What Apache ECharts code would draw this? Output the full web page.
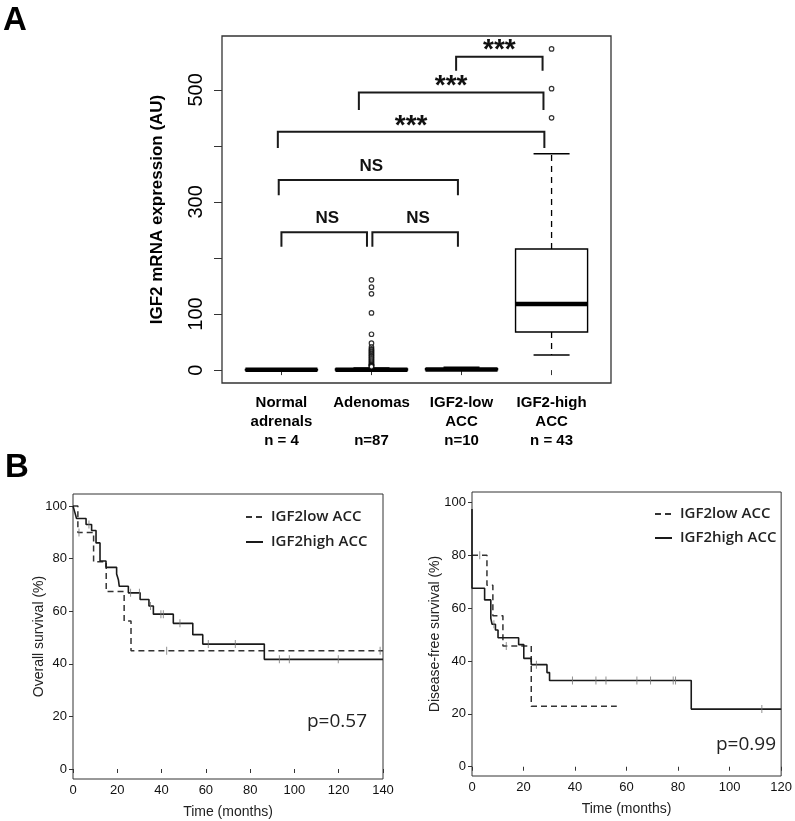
<!DOCTYPE html>
<html><head><meta charset="utf-8">
<script src="https://cdn.jsdelivr.net/npm/echarts@6/dist/echarts.min.js"></script>
<style>html,body{margin:0;padding:0;background:#fff}#c{width:795px;height:821px}</style>
</head><body><div id="c"></div>
<script>
// ---------- Panel A data ----------
const categories = ['Normal\nadrenals\nn = 4', 'Adenomas\n\nn=87', 'IGF2-low\nACC\nn=10', 'IGF2-high\nACC\nn = 43'];
const boxMin = [0, 0, 0, 27];
const boxQ1 = [0.2, 0.3, 0.5, 68];
const boxMedian = [0.5, 0.8, 1, 118];
const boxQ3 = [1, 2, 2.5, 216];
const boxMax = [2, 4, 5, 386];
const adenomaOutliers = [161, 148, 136, 102, 64, 48, 41, 38, 36, 34, 32, 30, 28, 26, 24, 22, 20, 18, 16, 14, 12, 10, 9, 8, 7, 6];
const igf2HighOutliers = [450, 502, 573];
const exprTicks = [0, 100, 200, 300, 400, 500];
const exprTickLabels = [0, 100, 300, 500];
// significance comparisons (group positions, bar level, leg level)
const bracketFrom = [1, 2.01, 0.97, 0.96, 1.86, 2.94];
const bracketTo = [1.95, 2.96, 2.96, 3.92, 3.91, 3.9];
const bracketBar = [246, 246, 339, 425, 495, 559];
const bracketLeg = [220, 220, 312, 396, 464, 534];
const bracketLabel = ['NS', 'NS', 'NS', '***', '***', '***'];

// ---------- Panel B data ----------
const survTicks = [0, 20, 40, 60, 80, 100];
const osLowTime = [0, 2.2, 9.3, 15.0, 23.1, 26.2, 140];
const osLowSurv = [100, 90, 78.8, 67.5, 56.3, 45, 45];
const osLowCensTime = [2.7, 42.3, 138.7];
const osLowCensSurv = [90, 45, 45];
const osHighTime = [0, 0.8, 1.6, 5.9, 8.4, 10.4, 12.2, 14.9, 19.7, 20.5, 20.9, 25.0, 30.3, 34.3, 36.3, 45.3, 54.1, 58.6, 86.4, 140];
const osHighSurv = [100, 97.7, 95.3, 93.0, 90.7, 86.0, 79.1, 76.7, 74.2, 72.0, 69.5, 67.0, 64.5, 62.0, 58.9, 55.4, 51.1, 47.5, 41.7, 41.7];
const osHighCensTime = [7.2, 26.0, 30.0, 35.0, 39.7, 40.8, 48.3, 61.1, 73.3, 93.2, 97.7, 119.8];
const osHighCensSurv = [93.0, 67.0, 67.0, 62.0, 58.9, 58.9, 55.4, 47.5, 47.5, 41.7, 41.7, 41.7];

const dfsLowTime = [0, 5.8, 8.1, 12.0, 23.0, 56.2];
const dfsLowSurv = [80, 68.6, 57.1, 45.7, 22.9, 22.9];
const dfsLowCensTime = [3.0, 13.3];
const dfsLowCensSurv = [80, 45.7];
const dfsHighTime = [0, 0, 4.9, 7.3, 7.8, 9.1, 10.1, 18.1, 20.1, 23.0, 29.1, 30.1, 85.1, 120];
const dfsHighSurv = [97.5, 67.5, 63.1, 56.1, 53.9, 51.7, 48.8, 46.2, 41.0, 38.6, 35.6, 32.6, 21.8, 21.8];
const dfsHighCensTime = [8.5, 25.0, 39.0, 48.1, 52.0, 64.0, 69.3, 78.1, 79.0, 112.5];
const dfsHighCensSurv = [53.9, 38.6, 32.6, 32.6, 32.6, 32.6, 32.6, 32.6, 32.6, 21.8];

// ---------- build ----------
const ARIAL = '"Liberation Sans", Arial, sans-serif';
const OPEN = '"Open Sans", sans-serif';
const zip = (a, b) => a.map((v, i) => [v, b[i]]);

function renderBox(params, api) {
  const x = api.value(0);
  const pMin = api.coord([x, api.value(1)]);
  const pQ1 = api.coord([x, api.value(2)]);
  const pMd = api.coord([x, api.value(3)]);
  const pQ3 = api.coord([x, api.value(4)]);
  const pMax = api.coord([x, api.value(5)]);
  const hw = api.size([0.4, 0])[0];
  const cw = api.size([0.2, 0])[0];
  const cx = pMd[0];
  const ls = {stroke: '#000', lineWidth: 1.4};
  return {type: 'group', children: [
    {type: 'line', shape: {x1: cx, y1: pQ3[1], x2: cx, y2: pMax[1]}, style: {stroke: '#000', lineWidth: 1.3, lineDash: [6, 5]}},
    {type: 'line', shape: {x1: cx, y1: pQ1[1], x2: cx, y2: pMin[1]}, style: {stroke: '#000', lineWidth: 1.3, lineDash: [6, 5]}},
    {type: 'line', shape: {x1: cx - cw, y1: pMax[1], x2: cx + cw, y2: pMax[1]}, style: ls},
    {type: 'line', shape: {x1: cx - cw, y1: pMin[1], x2: cx + cw, y2: pMin[1]}, style: ls},
    {type: 'rect', shape: {x: cx - hw, y: pQ3[1], width: 2 * hw, height: pQ1[1] - pQ3[1]}, style: {fill: '#fff', stroke: '#000', lineWidth: 1.4}},
    {type: 'line', shape: {x1: cx - hw, y1: pMd[1], x2: cx + hw, y2: pMd[1]}, style: {stroke: '#000', lineWidth: 4.5}}
  ]};
}

function renderBracket(params, api) {
  const i = params.dataIndex;
  const a = api.coord([api.value(0), api.value(2)]);
  const b = api.coord([api.value(1), api.value(2)]);
  const legY = api.coord([api.value(0), api.value(3)])[1];
  const star = bracketLabel[i] === '***';
  return {type: 'group', children: [
    {type: 'polyline', shape: {points: [[a[0], legY], [a[0], a[1]], [b[0], a[1]], [b[0], legY]]},
     style: {stroke: '#1a1a1a', lineWidth: 2, fill: 'none'}},
    {type: 'text', x: (a[0] + b[0]) / 2 + (star ? 0 : 3), y: a[1] - (star ? 6 : 13.5),
     style: {text: bracketLabel[i], font: star ? 'bold 28px ' + ARIAL : 'bold 17px ' + ARIAL, fill: '#111', align: 'center', verticalAlign: 'middle'}}
  ]};
}

const censorStyle = {type: 'scatter', symbol: 'rect', symbolSize: [1, 8], itemStyle: {color: '#777'}, silent: true, z: 4};
const solidLine = {type: 'solid', width: 1.6, color: '#1a1a1a'};
const dashLine = {type: [6, 4], width: 1.5, color: '#333'};
const kmYAxis = (idx, min, max, name, gap) => ({
  gridIndex: idx, type: 'value', min: min, max: max,
  name: name, nameLocation: 'middle', nameGap: gap, nameMoveOverlap: false,
  nameTextStyle: {fontFamily: ARIAL, fontSize: 14, color: '#222'},
  axisLine: {show: false}, splitLine: {show: false},
  axisTick: {customValues: survTicks, length: 4, lineStyle: {color: '#333'}},
  axisLabel: {customValues: survTicks, fontFamily: ARIAL, fontSize: 13, color: '#111', margin: 6}
});
const kmXAxis = (idx, max) => ({
  gridIndex: idx, type: 'value', min: 0, max: max, interval: 20,
  name: 'Time (months)', nameLocation: 'middle', nameGap: 26,
  nameTextStyle: {fontFamily: ARIAL, fontSize: 14, color: '#222'},
  axisLine: {show: false}, splitLine: {show: false},
  axisTick: {length: 4, lineStyle: {color: '#333'}},
  axisLabel: {fontFamily: ARIAL, fontSize: 13, color: '#111', margin: 5}
});
const legendCommon = {orient: 'vertical', itemWidth: 17, itemHeight: 14, padding: 0,
  data: ['IGF2low ACC', 'IGF2high ACC'], selectedMode: false,
  itemStyle: {opacity: 0},
  textStyle: {fontFamily: OPEN, fontWeight: 600, fontSize: 15, color: '#222', lineHeight: 18, padding: [0, 0, 0, 3]}};

const option = {
  animation: false,
  backgroundColor: '#fff',
  grid: [
    {left: 222, top: 36, width: 389, height: 347, show: true, borderColor: '#333', borderWidth: 1.3},
    {left: 73, top: 494, width: 310, height: 285, show: true, borderColor: '#333', borderWidth: 1},
    {left: 472, top: 492, width: 310, height: 284, show: true, borderColor: '#333', borderWidth: 1}
  ],
  xAxis: [
    {gridIndex: 0, type: 'value', min: 0.34, max: 4.66,
     axisLine: {show: false}, splitLine: {show: false},
     axisTick: {customValues: [1, 2, 3, 4], length: 5, lineStyle: {color: '#333'}},
     axisLabel: {customValues: [1, 2, 3, 4], formatter: v => categories[Math.round(v) - 1],
       fontFamily: ARIAL, fontWeight: 'bold', fontSize: 15, lineHeight: 19, color: '#000', margin: 10}},
    kmXAxis(1, 140),
    kmXAxis(2, 120)
  ],
  yAxis: [
    {gridIndex: 0, type: 'value', min: -23, max: 596,
     name: 'IGF2 mRNA expression (AU)', nameLocation: 'middle', nameGap: 56,
     nameTextStyle: {fontFamily: ARIAL, fontWeight: 'bold', fontSize: 17, color: '#000'},
     axisLine: {show: false}, splitLine: {show: false},
     axisTick: {customValues: exprTicks, length: 8, lineStyle: {color: '#333'}},
     axisLabel: {customValues: exprTickLabels, rotate: 90, fontFamily: ARIAL, fontSize: 20, color: '#000', margin: 16}},
    kmYAxis(1, -3.8, 104.6, 'Overall survival (%)', 27),
    kmYAxis(2, -3.5, 103.9, 'Disease-free survival (%)', 30)
  ],
  legend: [
    Object.assign({left: 245, top: 508, itemGap: 7}, legendCommon),
    Object.assign({left: 654, top: 505, itemGap: 6}, legendCommon)
  ],
  series: [
    {type: 'custom', xAxisIndex: 0, yAxisIndex: 0, renderItem: renderBox, z: 3,
     encode: {x: 0, y: [1, 2, 3, 4, 5]},
     data: categories.map((c, i) => [i + 1, boxMin[i], boxQ1[i], boxMedian[i], boxQ3[i], boxMax[i]])},
    {type: 'scatter', xAxisIndex: 0, yAxisIndex: 0, symbol: 'circle', symbolSize: 4.5, z: 4,
     itemStyle: {color: '#fff', borderColor: '#000', borderWidth: 1.2},
     data: adenomaOutliers.map(v => [2, v]).concat(igf2HighOutliers.map(v => [4, v]))},
    {type: 'custom', xAxisIndex: 0, yAxisIndex: 0, renderItem: renderBracket, z: 5,
     encode: {x: [0, 1], y: [2, 3]},
     data: bracketFrom.map((f, i) => [f, bracketTo[i], bracketBar[i], bracketLeg[i]])},

    {name: 'IGF2low ACC', type: 'line', step: 'end', xAxisIndex: 1, yAxisIndex: 1, symbol: 'none', lineStyle: dashLine, itemStyle: {color: '#333'}, data: zip(osLowTime, osLowSurv)},
    {name: 'IGF2high ACC', type: 'line', step: 'end', xAxisIndex: 1, yAxisIndex: 1, symbol: 'none', lineStyle: solidLine, itemStyle: {color: '#1a1a1a'}, data: zip(osHighTime, osHighSurv)},
    Object.assign({xAxisIndex: 1, yAxisIndex: 1, data: zip(osLowCensTime, osLowCensSurv)}, censorStyle),
    Object.assign({xAxisIndex: 1, yAxisIndex: 1, data: zip(osHighCensTime, osHighCensSurv)}, censorStyle),

    {name: 'IGF2low ACC', type: 'line', step: 'end', xAxisIndex: 2, yAxisIndex: 2, symbol: 'none', lineStyle: dashLine, itemStyle: {color: '#333'}, data: zip(dfsLowTime, dfsLowSurv)},
    {name: 'IGF2high ACC', type: 'line', step: 'end', xAxisIndex: 2, yAxisIndex: 2, symbol: 'none', lineStyle: solidLine, itemStyle: {color: '#1a1a1a'}, data: zip(dfsHighTime, dfsHighSurv)},
    Object.assign({xAxisIndex: 2, yAxisIndex: 2, data: zip(dfsLowCensTime, dfsLowCensSurv)}, censorStyle),
    Object.assign({xAxisIndex: 2, yAxisIndex: 2, data: zip(dfsHighCensTime, dfsHighCensSurv)}, censorStyle)
  ],
  graphic: [
    {type: 'text', left: 3, top: 4, style: {text: 'A', font: 'bold 33px ' + ARIAL, fill: '#000'}},
    {type: 'text', left: 5, top: 451, style: {text: 'B', font: 'bold 33px ' + ARIAL, fill: '#000'}},
    {type: 'text', left: 307, top: 712, style: {text: 'p=0.57', font: '19px ' + OPEN, fill: '#222'}},
    {type: 'text', left: 716, top: 735, style: {text: 'p=0.99', font: '19px ' + OPEN, fill: '#222'}}
  ]
};
const chart = echarts.init(document.getElementById('c'), null, {renderer: 'canvas'});
chart.setOption(option);
</script></body></html>
